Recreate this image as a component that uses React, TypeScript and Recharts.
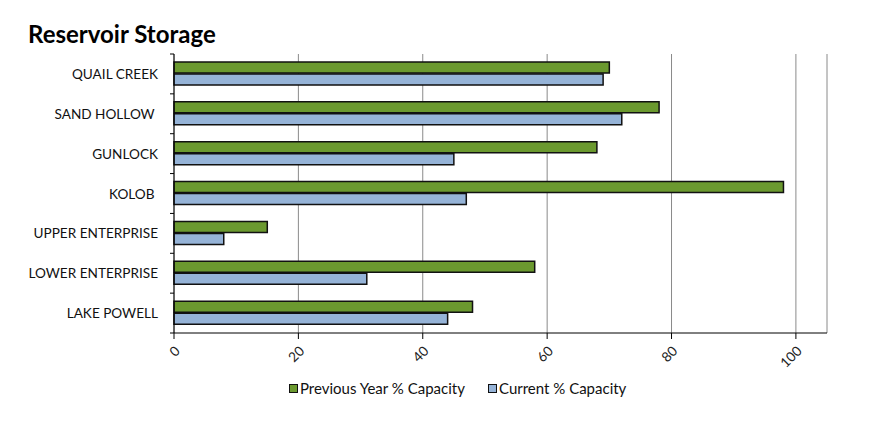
import React from 'react';
import { BarChart, Bar, XAxis, YAxis, CartesianGrid, Legend } from 'recharts';

const categories = ['QUAIL CREEK', 'SAND HOLLOW ', 'GUNLOCK', 'KOLOB ', 'UPPER ENTERPRISE', 'LOWER ENTERPRISE', 'LAKE POWELL'];
const previousYear = [70, 78, 68, 98, 15, 58, 48];
const current = [69, 72, 45, 47, 8, 31, 44];
const xTicks = [0, 20, 40, 60, 80, 100];
const seriesNames = ['Previous Year % Capacity', 'Current % Capacity'];

const data = categories.map((name, i) => ({ name, prev: previousYear[i], cur: current[i] }));

const GREEN = '#6B992F';
const BLUE = '#95B3D7';
const FONT = 'Lato, "Open Sans", sans-serif';

const W = 874;
const H = 431;
const PLOT_LEFT = 174;
const PLOT_TOP = 54;
const PLOT_BOTTOM = 333;
const BAND = (PLOT_BOTTOM - PLOT_TOP) / categories.length;
const LEGEND_X = [289, 488];

const YTick = (props: any) => {
  const { y, payload, index } = props;
  const last = index === categories.length - 1;
  return (
    <g>
      <line x1={PLOT_LEFT - 4} x2={PLOT_LEFT} y1={y - BAND / 2} y2={y - BAND / 2} stroke="#000" strokeWidth={1} />
      {last && (
        <line x1={PLOT_LEFT - 4} x2={PLOT_LEFT} y1={y + BAND / 2} y2={y + BAND / 2} stroke="#000" strokeWidth={1} />
      )}
      <text
        x={PLOT_LEFT - 16}
        y={y}
        dy={5}
        textAnchor="end"
        fontFamily={FONT}
        fontSize={13.6}
        fill="#111"
        style={{ whiteSpace: 'pre' }}
      >
        {payload.value}
      </text>
    </g>
  );
};

const XTick = (props: any) => {
  const { x, y, payload } = props;
  return (
    <g transform={`translate(${x + 4},${y + 8})`}>
      <text transform="rotate(-45)" textAnchor="end" dy={4} fontFamily={FONT} fontSize={13.6} fill="#222">
        {payload.value}
      </text>
    </g>
  );
};

const LegendContent = () => (
  <div style={{ position: 'relative', height: 20, fontFamily: FONT, fontSize: 15, color: '#111' }}>
    {[GREEN, BLUE].map((c, i) => (
      <div key={i} style={{ position: 'absolute', left: LEGEND_X[i], top: 0, height: 20, display: 'flex', alignItems: 'center', whiteSpace: 'nowrap' }}>
        <span style={{ display: 'inline-block', width: 7, height: 7, background: c, border: '1px solid #111', marginRight: 2 }} />
        <span>{seriesNames[i]}</span>
      </div>
    ))}
  </div>
);

export default function App() {
  return (
    <div style={{ position: 'absolute', left: 0, top: 0, width: W, height: H, background: '#fff' }}>
      <div
        style={{
          position: 'absolute',
          left: 28,
          top: 19,
          fontFamily: FONT,
          fontWeight: 700,
          fontSize: 24,
          color: '#000',
          lineHeight: '30px',
          zIndex: 2,
        }}
      >
        Reservoir Storage
      </div>
      <BarChart
        width={W}
        height={H}
        data={data}
        layout="vertical"
        margin={{ top: PLOT_TOP, right: W - 827, left: 0, bottom: 33 }}
        barSize={11}
        barGap={1}
      >
        <CartesianGrid horizontal={false} vertical stroke="#8a8a8a" strokeWidth={1} />
        <XAxis
          type="number"
          domain={[0, 105]}
          ticks={xTicks}
          interval={0}
          height={45}
          tick={<XTick />}
          tickSize={6}
          tickLine={{ stroke: '#000' }}
          axisLine={{ stroke: '#000' }}
        />
        <XAxis
          xAxisId="top"
          orientation="top"
          type="number"
          domain={[0, 105]}
          height={0}
          tick={false}
          tickLine={false}
          axisLine={{ stroke: '#8a8a8a' }}
        />
        <YAxis
          type="category"
          dataKey="name"
          width={PLOT_LEFT}
          tick={<YTick />}
          tickLine={false}
          interval={0}
          axisLine={{ stroke: '#000' }}
        />
        <YAxis
          yAxisId="right"
          orientation="right"
          type="category"
          dataKey="name"
          width={0}
          tick={false}
          tickLine={false}
          axisLine={{ stroke: '#8a8a8a' }}
        />
        <Legend verticalAlign="bottom" content={<LegendContent />} />
        <Bar dataKey="prev" name={seriesNames[0]} fill={GREEN} stroke="#111" strokeWidth={1.5} isAnimationActive={false} />
        <Bar dataKey="cur" name={seriesNames[1]} fill={BLUE} stroke="#111" strokeWidth={1.5} isAnimationActive={false} />
      </BarChart>
    </div>
  );
}
